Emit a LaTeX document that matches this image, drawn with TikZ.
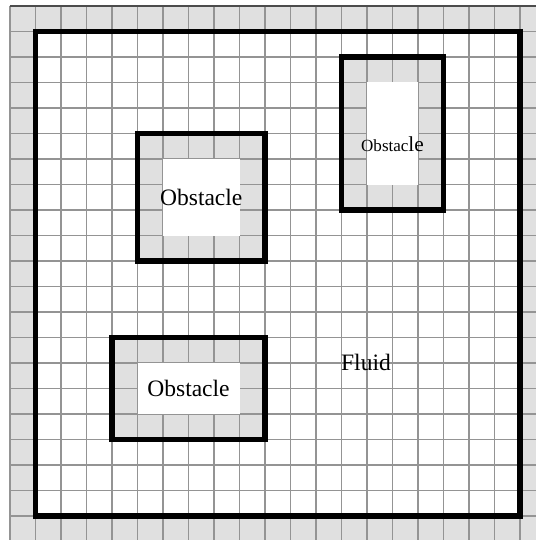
\documentclass[tikz,border=0pt]{standalone}
\usepackage{fontspec}
\setmainfont{Liberation Serif}
\usepackage{tikz}
\usetikzlibrary{positioning}
\definecolor{cellgray}{gray}{0.88}
\definecolor{linegray}{gray}{0.58}

\begin{document}
\begin{tikzpicture}[
    x=0.4cm, y=-0.4cm,
    gridline/.style={draw=linegray, line width=0.6pt},
    wall/.style={draw=black, line width=2.6pt, line join=miter},
    label/.style={font=\fontsize{10.5}{12}\selectfont, inner sep=0pt}
]
    \useasboundingbox (-0.392,-0.235) rectangle (20.63,20.94);

    % Background and fluid domain
    \fill[cellgray] (0,0) rectangle (20.63,20.94);
    \fill[white] (1,1) rectangle (20,20);
    \foreach \xa/\ya/\xb/\yb in {5/5/10/10, 13/2/17/8, 4/13/10/17}
        \fill[cellgray] (\xa,\ya) rectangle (\xb,\yb);

    % Grid
    \foreach \i in {0,...,20}
        \draw[gridline] (\i,0) -- (\i,20.94);
    \foreach \j in {0,...,20}
        \draw[gridline] (0,\j) -- (20.63,\j);
    \draw[draw=black!70, line width=0.6pt] (0,0) -- (20.63,0);

    % Obstacle interiors and walls
    \foreach \xa/\ya/\xb/\yb in {5/5/10/10, 13/2/17/8, 4/13/10/17}{
        \fill[white] (\xa+1,\ya+1) rectangle (\xb-1,\yb-1);
        \draw[wall] (\xa,\ya) rectangle (\xb,\yb);
    }
    \draw[wall] (1,1) rectangle (20,20);

    % Labels
    \node[label] (obsA) at (7.5,7.5) {Obstacle};
    \node[label, anchor=base] (obsB) at (15,5.69) {{\fontsize{7.6}{9}\selectfont Obstac}{\fontsize{9.5}{11}\selectfont le}};
    \node[label] (obsC) at (7,15) {Obstacle};
    \node[label] (fluid) at (13.96,13.96) {Fluid};
\end{tikzpicture}
\end{document}
